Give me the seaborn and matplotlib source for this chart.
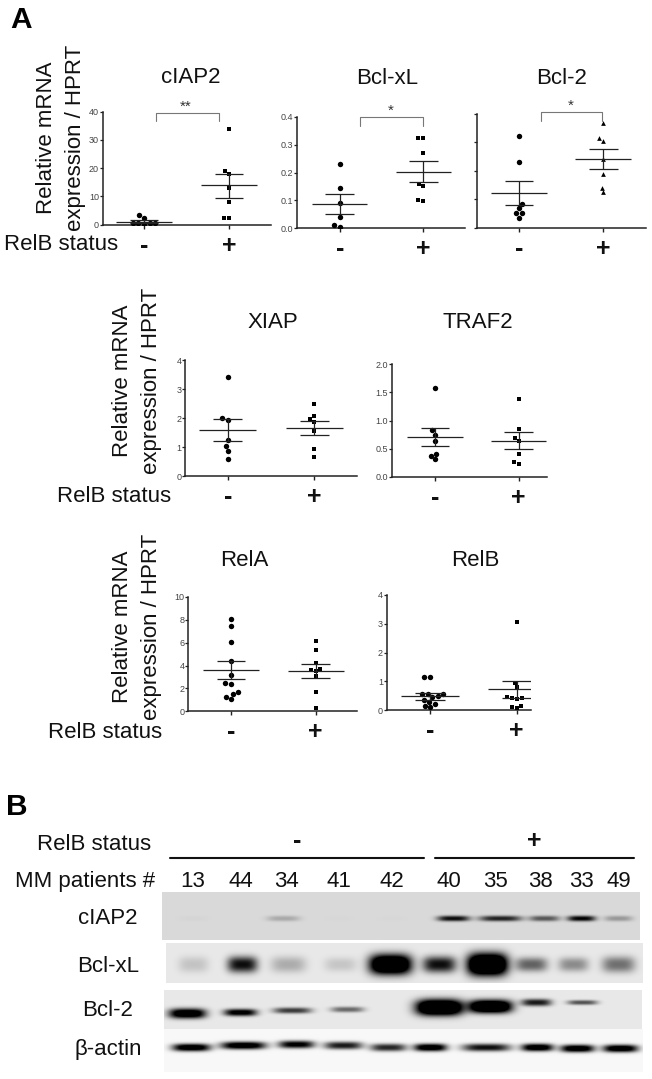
import matplotlib
matplotlib.use("Agg")
import matplotlib.pyplot as plt
import numpy as np
import pandas as pd
import seaborn as sns

# Values
ciap2_neg = [3.4, 2.5, 0.7, 0.5, 0.4, 0.5, 0.6]
ciap2_pos = [34, 19, 18, 13, 8, 2.3, 2.5]
bclxl_neg = [0.23, 0.146, 0.09, 0.042, 0.006, 0.012]
bclxl_pos = [0.326, 0.326, 0.27, 0.158, 0.151, 0.099, 0.102]
bcl2_neg = [0.324, 0.23, 0.084, 0.068, 0.053, 0.05, 0.033]
bcl2_pos = [0.367, 0.314, 0.304, 0.242, 0.19, 0.14, 0.124]
xiap_neg = [3.43, 2.0, 1.93, 1.24, 1.03, 0.85, 0.59]
xiap_pos = [2.48, 2.06, 1.95, 1.86, 1.56, 0.92, 0.64]
traf2_neg = [1.58, 0.83, 0.75, 0.635, 0.41, 0.37, 0.31]
traf2_pos = [1.39, 0.855, 0.69, 0.64, 0.40, 0.26, 0.23]
rela_neg = [8.08, 7.46, 6.09, 4.43, 3.18, 2.45, 2.36, 1.69, 1.49, 1.28, 1.05]
rela_pos = [6.18, 5.36, 4.26, 3.7, 3.64, 3.56, 3.12, 1.66, 0.29]
relb_neg = [1.16, 1.16, 0.56, 0.56, 0.44, 0.35, 0.49, 0.56, 0.28, 0.2, 0.09, 0.14]
relb_pos = [3.06, 0.94, 0.79, 0.46, 0.41, 0.41, 0.38, 0.14, 0.07, 0.1]

# mean, upper, lower for (-) then (+)
ciap2_bars = [(1.1, 1.6, 0.6), (13.9, 18.1, 9.6)]
bclxl_bars = [(0.087, 0.123, 0.053), (0.204, 0.243, 0.165)]
bcl2_bars = [(0.121, 0.163, 0.079), (0.242, 0.278, 0.206)]
xiap_bars = [(1.59, 1.95, 1.22), (1.66, 1.9, 1.4)]
traf2_bars = [(0.706, 0.87, 0.54), (0.64, 0.795, 0.487)]
rela_bars = [(3.59, 4.37, 2.83), (3.53, 4.14, 2.94)]
relb_bars = [(0.49, 0.59, 0.36), (0.72, 1.02, 0.41)]

status = ["-", "+"]
patients = ["13", "44", "34", "41", "42", "40", "35", "38", "33", "49"]

# band strength per patient lane
ciap2_band = [0.02, 0.0, 0.22, 0.01, 0.01, 0.95, 0.85, 0.6, 1.0, 0.3]
bclxl_band = [0.16, 0.95, 0.26, 0.15, 1.7, 0.95, 1.9, 0.58, 0.4, 0.52]
bcl2_band = [1.3, 1.1, 0.75, 0.55, 0.0, 1.8, 1.7, 0.9, 0.65, 0.0]
actin_band = [1.2, 1.2, 1.05, 0.9, 0.85, 1.2, 0.95, 1.2, 1.2, 1.2]

W, H = 652, 1079
INK = "#222222"

sns.set_style("ticks")
plt.rcParams["font.family"] = ["Liberation Sans", "DejaVu Sans"]

fig = plt.figure(figsize=(W / 100, H / 100), dpi=100)


def dot_panel(neg, pos, bars, marker, yticks, ylabels, spine, top, bottom, end, t0, t1):
    ax = fig.add_axes([spine / W, 1 - bottom / H, (end - spine) / W, (bottom - top) / H])
    df = pd.DataFrame({"status": ["-"] * len(neg) + ["+"] * len(pos), "value": neg + pos})
    sns.swarmplot(data=df[df.status == "-"], x="status", y="value", order=status, ax=ax,
                  color="black", marker="o", size=3.9, linewidth=0, warn_thresh=1)
    sns.swarmplot(data=df[df.status == "+"], x="status", y="value", order=status, ax=ax,
                  color="black", marker=marker, size=3.4, linewidth=0, warn_thresh=1)
    for i, (m, up, lo) in enumerate(bars):
        ax.hlines(m, i - 0.33, i + 0.33, color=INK, lw=0.9, zorder=3)
        ax.hlines([up, lo], i - 0.17, i + 0.17, color=INK, lw=0.9, zorder=3)
        ax.vlines(i, lo, up, color=INK, lw=0.9, zorder=3)
    unit = t1 - t0
    ax.set_xlim((spine - t0) / unit, (end - t0) / unit)
    ax.set_ylim(yticks[0], yticks[-1])
    ax.set_yticks(yticks)
    ax.set_yticklabels(ylabels, fontsize=6.5, color="#444444")
    ax.set_xticks([0, 1])
    ax.set_xticklabels(status, fontsize=18, fontweight="bold", color="#111111")
    ax.set_xlabel("")
    ax.set_ylabel("")
    ax.tick_params(axis="y", length=2.2, width=0.9, pad=0.5, color=INK)
    ax.tick_params(axis="x", length=3, width=1.0, pad=3.5, color=INK)
    sns.despine(ax=ax)
    for s in ["left", "bottom"]:
        ax.spines[s].set_linewidth(1.1)
        ax.spines[s].set_color(INK)
    ax.patch.set_alpha(0)
    return ax


dot_panel(ciap2_neg, ciap2_pos, ciap2_bars, "s", [0, 10, 20, 30, 40], ["0", "10", "20", "30", "40"],
          102.7, 111.7, 224.7, 270.7, 144, 229)
dot_panel(bclxl_neg, bclxl_pos, bclxl_bars, "s", [0, 0.1, 0.2, 0.3, 0.4], ["0.0", "0.1", "0.2", "0.3", "0.4"],
          296.7, 117, 228.3, 465, 339.7, 423.3)
dot_panel(bcl2_neg, bcl2_pos, bcl2_bars, "^", [0, 0.1, 0.2, 0.3, 0.4], ["", "", "", "", ""],
          476.7, 114, 227.7, 646, 519, 603.3)
dot_panel(xiap_neg, xiap_pos, xiap_bars, "s", [0, 1, 2, 3, 4], ["0", "1", "2", "3", "4"],
          185.3, 360, 476, 357, 227.7, 314.3)
dot_panel(traf2_neg, traf2_pos, traf2_bars, "s", [0, 0.5, 1, 1.5, 2], ["0.0", "0.5", "1.0", "1.5", "2.0"],
          391.7, 364.3, 476.7, 546.7, 435, 518.7)
dot_panel(rela_neg, rela_pos, rela_bars, "s", [0, 2, 4, 6, 8, 10], ["0", "2", "4", "6", "8", "10"],
          188.3, 597, 711.3, 357.3, 231, 315.7)
dot_panel(relb_neg, relb_pos, relb_bars, "s", [0, 1, 2, 3, 4], ["0", "1", "2", "3", "4"],
          386.7, 595, 710, 531, 430, 516.7)


def blot(bands, left, right, top, bottom, bg, centres, widths, ys, sy):
    # one cell per pixel, each band a soft rounded blob
    w, h = int(right - left), int(bottom - top)
    xx, yy = np.meshgrid(np.arange(w) + left, np.arange(h) + top)
    img = np.zeros((h, w))
    for b, c, wd, y, s in zip(bands, centres, widths, ys, sy):
        img += b * np.exp(-np.abs((xx - c) / (wd / 2)) ** 3.5) * np.exp(-np.abs((yy - y) / s) ** 2.4)
    img = bg + (1 - bg) * np.clip(img, 0, 1)
    img = np.clip(img, 0, 1)
    ax = fig.add_axes([left / W, 1 - bottom / H, (right - left) / W, (bottom - top) / H])
    sns.heatmap(img, cmap="gray_r", vmin=0, vmax=1, cbar=False, ax=ax,
                xticklabels=False, yticklabels=False, rasterized=True)


blot(ciap2_band, 162, 640, 892, 940, 0.15,
     [193, 241, 283, 339, 392, 453, 500, 544, 581, 618],
     [30, 30, 33, 30, 30, 32, 42, 30, 28, 28], [918] * 10, [2.8] * 10)
blot(bclxl_band, 166, 643, 943, 983, 0.09,
     [193, 242, 288, 340, 390, 439, 487, 531, 573, 618],
     [30, 30, 35, 32, 42, 33, 40, 32, 30, 33], [964] * 10,
     [8, 8, 8, 7, 10, 8, 11, 7, 7, 8])
blot(bcl2_band, 164, 642, 990, 1029, 0.09,
     [187, 240, 292, 347, 390, 439, 490, 536, 582, 620],
     [37, 33, 38, 33, 30, 47, 43, 30, 30, 30],
     [1013, 1012, 1010, 1009, 1009, 1007, 1006, 1002, 1002, 1001],
     [5, 3.6, 3, 2.8, 2, 8, 6.5, 3.6, 2.4, 2])
blot(actin_band, 164, 643, 1029, 1072, 0.03,
     [191, 243, 296, 343, 388, 430, 486, 537, 577, 620],
     [38, 45, 36, 38, 36, 33, 48, 32, 34, 35],
     [1047, 1045, 1044, 1045, 1047, 1047, 1047, 1047, 1048, 1048], [3.8] * 10)

# overlay in image pixels for all the free text and brackets
ov = fig.add_axes([0, 0, 1, 1], zorder=10)
ov.set_xlim(0, W)
ov.set_ylim(H, 0)
ov.axis("off")
ov.patch.set_alpha(0)


def label(x, y, s, size=16, **kw):
    kw.setdefault("color", "#111111")
    ov.text(x, y, s, fontsize=size, ha=kw.pop("ha", "center"), va="center", **kw)


label(21, 20, "A", size=21.5, fontweight="bold", color="black")
label(17, 807, "B", size=21.5, fontweight="bold", color="black")

titles = [("cIAP2", 190.7, 77.5), ("Bcl-xL", 387.3, 79), ("Bcl-2", 561.7, 79),
          ("XIAP", 272.7, 322), ("TRAF2", 478.3, 322),
          ("RelA", 244.3, 560), ("RelB", 475.7, 560)]
for s, x, y in titles:
    label(x, y, s)

for x1, x2, y in [(47, 76, 138), (122, 151, 381), (123, 152, 627)]:
    label(x1, y, "Relative mRNA", rotation=90)
    label(x2, y, "expression / HPRT", rotation=90)

for x, y in [(61.5, 245), (114.5, 496), (105, 732)]:
    label(x, y, "RelB status")

for x0, x1, top, foot, sx, sy, stars in [(155.7, 219.3, 112.7, 120.7, 186, 107, "**"),
                                         (360, 423.3, 117.3, 125.7, 390.7, 111, "*"),
                                         (541, 601.7, 112.3, 120.7, 570.7, 106, "*")]:
    ov.plot([x0, x0, x1, x1], [foot, top, top, foot], color="#777777", lw=0.8)
    label(sx, sy, stars, size=11, color="#333333")

label(94, 845, "RelB status")
label(85, 882, "MM patients #")
for s, x, y in [("cIAP2", 107.5, 918), ("Bcl-xL", 108, 967), ("Bcl-2", 108, 1011), ("β-actin", 108, 1050)]:
    label(x, y, s)
for s, x in zip(patients, [193, 241, 286, 339, 392, 449, 495, 540, 581, 619]):
    label(x, 881.5, s)
label(297, 841, "-", size=18, fontweight="bold")
label(534.6, 841, "+", size=18, fontweight="bold")
ov.plot([170, 424], [857.7, 857.7], color="#111111", lw=1.5)
ov.plot([435, 634], [857.7, 857.7], color="#111111", lw=1.5)

fig.savefig("out.png", dpi=100)
